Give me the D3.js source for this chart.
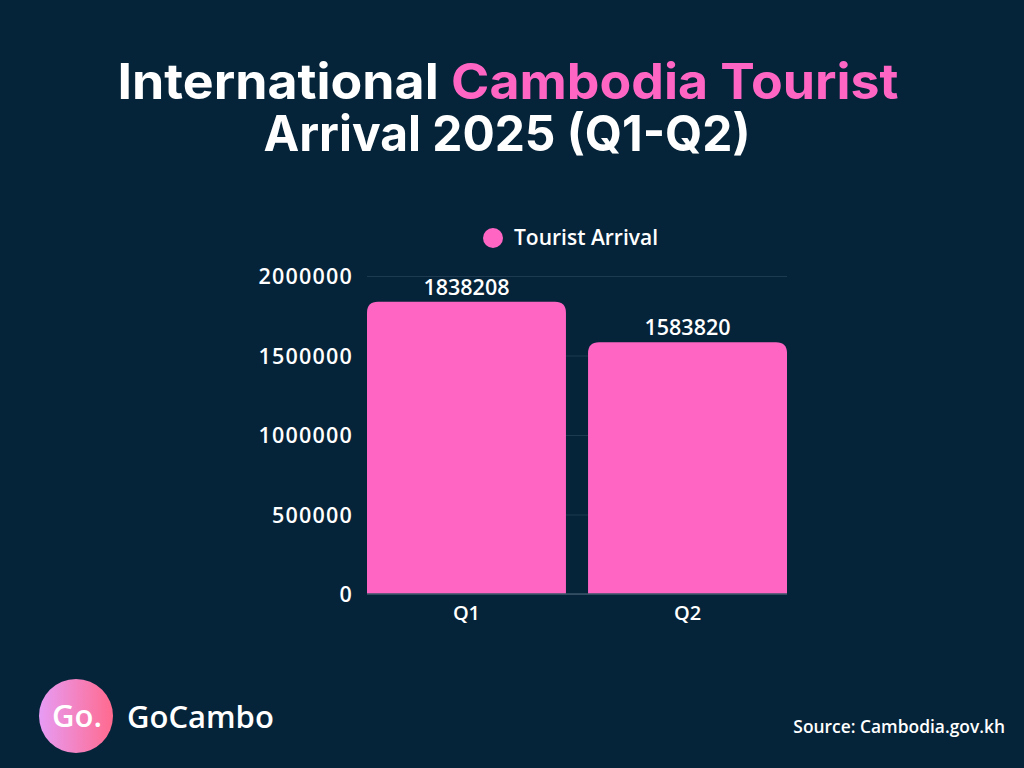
<!DOCTYPE html>
<html><head><meta charset="utf-8">
<script src="https://cdn.jsdelivr.net/npm/d3@7/dist/d3.min.js"></script>
<style>body{margin:0;background:#05243a;}svg{display:block;}</style>
</head><body>
<script>
const categories = ["Q1", "Q2"];
const values = [1838208, 1583820];
const yTicks = [0, 500000, 1000000, 1500000, 2000000];
const seriesName = "Tourist Arrival";

const W = 1024, H = 768;
const bg = "#05243a", pink = "#ff66c4";
const svg = d3.select("body").append("svg").attr("width", W).attr("height", H);
svg.append("rect").attr("width", W).attr("height", H).attr("fill", bg);

const font = "'Open Sans', 'Noto Sans', sans-serif";
const tfont = "Inter, 'Open Sans', sans-serif";

// Title
const t1 = svg.append("text").attr("x", 508).attr("y", 99).attr("text-anchor", "middle")
  .attr("font-family", tfont).attr("font-weight", 700).attr("font-size", 49).attr("fill", "#fff")
  .attr("textLength", 781).attr("lengthAdjust", "spacingAndGlyphs");
t1.append("tspan").text("International ");
t1.append("tspan").attr("fill", pink).text("Cambodia Tourist");
svg.append("text").attr("x", 507).attr("y", 151).attr("text-anchor", "middle")
  .attr("font-family", tfont).attr("font-weight", 700).attr("font-size", 49).attr("fill", "#fff")
  .attr("textLength", 487).attr("lengthAdjust", "spacingAndGlyphs")
  .text("Arrival 2025 (Q1-Q2)");

// Scales
const x = d3.scaleBand().domain(categories).range([367, 787]).paddingInner(0.1).paddingOuter(0);
const y = d3.scaleLinear().domain([0, 2000000]).range([594, 276]);

// Grid
const grid = svg.append("g").call(d3.axisLeft(y).tickValues(yTicks).tickSize(-(787 - 367)).tickFormat(""))
  .attr("transform", "translate(367,0)");
grid.select(".domain").remove();
grid.selectAll("line").attr("stroke", "#1d3a50").attr("stroke-width", 1);

// Bars with rounded top corners
const r = 11;
svg.append("g").selectAll("path").data(values).join("path")
  .attr("fill", pink)
  .attr("d", (d, i) => {
    const x0 = x(categories[i]), w = x.bandwidth(), y0 = y(d), yb = y(0);
    return `M${x0},${yb} V${y0 + r} Q${x0},${y0} ${x0 + r},${y0} H${x0 + w - r} Q${x0 + w},${y0} ${x0 + w},${y0 + r} V${yb} Z`;
  });

// Baseline
svg.append("line").attr("x1", 367).attr("x2", 787).attr("y1", y(0)).attr("y2", y(0)).attr("stroke", "#3a5468").attr("stroke-width", 1.5);

// Y axis labels
const ya = svg.append("g").attr("transform", "translate(353,0)")
  .call(d3.axisLeft(y).tickValues(yTicks).tickSize(0).tickPadding(0).tickFormat(d3.format("d")));
ya.select(".domain").remove();
ya.selectAll("text").attr("font-family", font).attr("font-weight", 600).attr("font-size", 21.5)
  .attr("letter-spacing", 1.2).attr("fill", "#fff").attr("dy", "0.35em");

// X axis labels
const xa = svg.append("g").attr("transform", `translate(0,${y(0)})`)
  .call(d3.axisBottom(x).tickSize(0).tickPadding(12));
xa.select(".domain").remove();
xa.selectAll("text").attr("font-family", font).attr("font-weight", 600).attr("font-size", 20).attr("fill", "#fff").attr("dy", "0.71em");

// Value labels
svg.append("g").selectAll("text").data(values).join("text")
  .attr("x", (d, i) => x(categories[i]) + x.bandwidth() / 2)
  .attr("y", d => y(d) - 7)
  .attr("text-anchor", "middle")
  .attr("font-family", font).attr("font-weight", 600).attr("font-size", 21.5).attr("fill", "#fff")
  .text(d => d);

// Legend
svg.append("circle").attr("cx", 493).attr("cy", 238).attr("r", 10).attr("fill", pink);
svg.append("text").attr("x", 514).attr("y", 245).attr("font-family", font).attr("font-weight", 600)
  .attr("font-size", 21).attr("fill", "#fff").text(seriesName);

// Logo
const defs = svg.append("defs");
const g = defs.append("linearGradient").attr("id", "lg").attr("x1", "0%").attr("x2", "100%");
g.append("stop").attr("offset", "0%").attr("stop-color", "#e79cf5");
g.append("stop").attr("offset", "100%").attr("stop-color", "#ff6a8e");
svg.append("circle").attr("cx", 76).attr("cy", 716).attr("r", 37).attr("fill", "url(#lg)");
svg.append("text").attr("x", 77).attr("y", 727).attr("text-anchor", "middle").attr("font-family", font)
  .attr("font-weight", 600).attr("font-size", 31).attr("fill", "#fff").text("Go.");
svg.append("text").attr("x", 127).attr("y", 728).attr("font-family", font)
  .attr("font-weight", 600).attr("font-size", 31).attr("fill", "#fff").text("GoCambo");

// Source
svg.append("text").attr("x", 1005).attr("y", 733).attr("text-anchor", "end").attr("font-family", font)
  .attr("font-weight", 600).attr("font-size", 17.4).attr("fill", "#fff").text("Source: Cambodia.gov.kh");
</script>
</body></html>
